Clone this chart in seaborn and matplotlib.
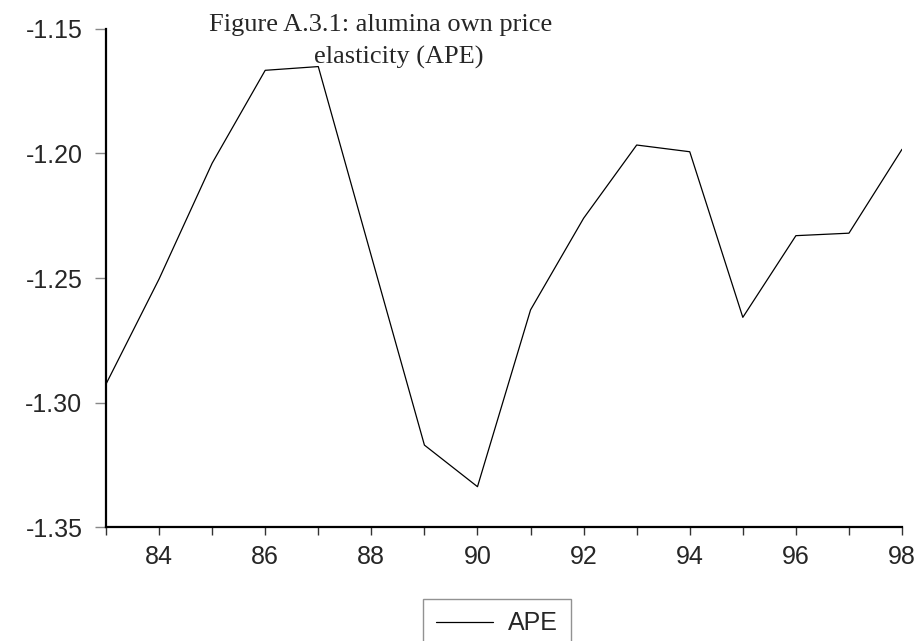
import matplotlib
matplotlib.use("Agg")
import matplotlib.pyplot as plt
import seaborn as sns
import pandas as pd

# values
years = [83, 84, 85, 86, 87, 88, 89, 90, 91, 92, 93, 94, 95, 96, 97, 98]
ape = [-1.2926, -1.2504, -1.2039, -1.1666, -1.1651, -1.2412, -1.3171, -1.3338,
       -1.2628, -1.2260, -1.1966, -1.1993, -1.2658, -1.2330, -1.2320, -1.1983]
yticks = [-1.35, -1.30, -1.25, -1.20, -1.15]
xlabel_years = [84, 86, 88, 90, 92, 94, 96, 98]

df = pd.DataFrame({'year': years, 'APE': ape})

sns.set_style('ticks')
plt.rcParams['font.family'] = ['Liberation Sans', 'DejaVu Sans']
plt.rcParams['axes.unicode_minus'] = False

fig = plt.figure(figsize=(9.21, 6.41), dpi=100)
ax = fig.add_axes([0.1151, 0.1778, 0.8643, 0.777])

sns.lineplot(data=df, x='year', y='APE', color='black', linewidth=0.9,
             label='APE', ax=ax, legend=False)

ax.set_xlim(83, 98)
ax.set_ylim(-1.35, -1.15)
ax.set_xticks(years)
ax.set_xticklabels([str(y) if y in xlabel_years else '' for y in years])
ax.set_yticks(yticks)
ax.set_yticklabels([f'{v:.2f}' for v in yticks])
ax.set_xlabel('')
ax.set_ylabel('')

ax.tick_params(axis='x', direction='out', length=6, width=1, color='#333333',
               pad=7, labelsize=18)
ax.tick_params(axis='y', direction='out', length=8, width=1, color='#888888',
               pad=9, labelsize=18)

for s in ['top', 'right']:
    ax.spines[s].set_visible(False)
for s in ['left', 'bottom']:
    ax.spines[s].set_linewidth(1.6)
    ax.spines[s].set_color('black')

# legend box below the axes, partly cut by the figure edge
leg = fig.legend(handles=ax.get_lines()[:1], labels=['APE'], loc='upper center',
                 bbox_to_anchor=(497 / 921, 1 - 599 / 641), fontsize=18,
                 frameon=True, fancybox=False, handlelength=2.3,
                 handletextpad=0.6, borderpad=0.5, borderaxespad=0)
leg.get_frame().set_edgecolor('#777777')
leg.get_frame().set_linewidth(1.0)

fig.text(381 / 921, 1 - 31 / 641, 'Figure A.3.1: alumina own price',
         ha='center', va='baseline', fontsize=19,
         family=['Liberation Serif', 'DejaVu Serif'])
fig.text(399 / 921, 1 - 64 / 641, 'elasticity (APE)',
         ha='center', va='baseline', fontsize=19,
         family=['Liberation Serif', 'DejaVu Serif'])

fig.savefig('out.png', dpi=100)
